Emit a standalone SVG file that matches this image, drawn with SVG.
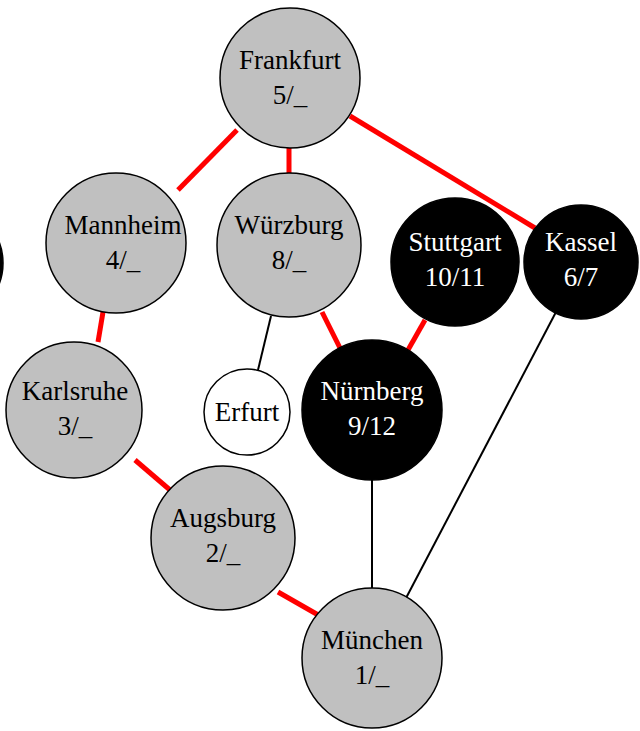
<svg xmlns="http://www.w3.org/2000/svg" width="640" height="731" viewBox="0 0 640 731">
<style>
.n{stroke:#000;stroke-width:1.5}
.g{fill:#c0c0c0}
.b{fill:#000}
.w{fill:#fff}
text{font-family:"Liberation Serif","Times New Roman","DejaVu Serif",serif;font-size:27px;text-anchor:middle}
.tb{fill:#000}
.tw{fill:#fff}
.r{stroke:#ff0000;stroke-width:5}
.k{stroke:#000;stroke-width:2}
</style>
<rect width="640" height="731" fill="#fff"/>
<g id="edges">
<line class="r" x1="237" y1="130" x2="178" y2="190"/>
<line class="r" x1="289" y1="148" x2="289" y2="173"/>
<line class="r" x1="350" y1="116" x2="535" y2="228"/>
<line class="r" x1="103" y1="312" x2="98" y2="342"/>
<line class="k" x1="271" y1="316" x2="258" y2="370"/>
<line class="r" x1="322" y1="312" x2="340" y2="348"/>
<line class="r" x1="425" y1="320" x2="408" y2="350"/>
<line class="k" x1="556" y1="312" x2="405" y2="600"/>
<line class="k" x1="372" y1="480" x2="372" y2="590"/>
<line class="r" x1="135" y1="460" x2="170" y2="490"/>
<line class="r" x1="278" y1="592" x2="320" y2="616"/>
</g>
<g id="offscreen"><circle class="n b" cx="-54" cy="263" r="57"/></g>
<g id="frankfurt"><circle class="n g" cx="290" cy="78" r="70"/><text class="tb" x="290" y="69">Frankfurt</text><text class="tb" x="290" y="104">5/_</text></g>
<g id="mannheim"><circle class="n g" cx="116" cy="243" r="70"/><text class="tb" x="123" y="234">Mannheim</text><text class="tb" x="123" y="269">4/_</text></g>
<g id="wuerzburg"><circle class="n g" cx="289" cy="245" r="72"/><text class="tb" x="289" y="234">Würzburg</text><text class="tb" x="289" y="269">8/_</text></g>
<g id="stuttgart"><circle class="n b" cx="455" cy="262" r="64"/><text class="tw" x="455" y="251">Stuttgart</text><text class="tw" x="455" y="286">10/11</text></g>
<g id="kassel"><circle class="n b" cx="581" cy="262" r="57"/><text class="tw" x="581" y="251">Kassel</text><text class="tw" x="581" y="286">6/7</text></g>
<g id="karlsruhe"><circle class="n g" cx="74" cy="410" r="68"/><text class="tb" x="75" y="400">Karlsruhe</text><text class="tb" x="75" y="435">3/_</text></g>
<g id="erfurt"><circle class="n w" cx="247" cy="412" r="43"/><text class="tb" x="247" y="421">Erfurt</text></g>
<g id="nuernberg"><circle class="n b" cx="372" cy="410" r="70"/><text class="tw" x="372" y="400">Nürnberg</text><text class="tw" x="372" y="435">9/12</text></g>
<g id="augsburg"><circle class="n g" cx="223" cy="538" r="72"/><text class="tb" x="223" y="527">Augsburg</text><text class="tb" x="223" y="562">2/_</text></g>
<g id="muenchen"><circle class="n g" cx="372" cy="658" r="70"/><text class="tb" x="372" y="649">München</text><text class="tb" x="372" y="684">1/_</text></g>
</svg>
